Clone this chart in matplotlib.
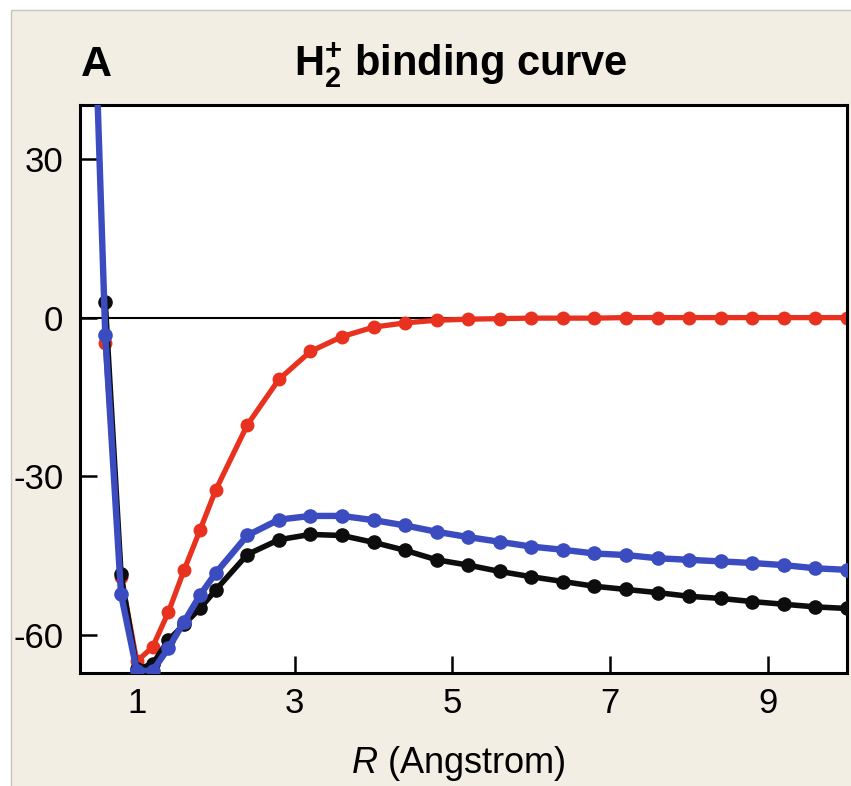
import matplotlib
matplotlib.use('Agg')
import matplotlib.pyplot as plt
from matplotlib.patches import Rectangle

plt.rcParams['font.family'] = ['Liberation Sans', 'DejaVu Sans']
plt.rcParams['mathtext.fontset'] = 'custom'
plt.rcParams['mathtext.rm'] = 'Liberation Sans'
plt.rcParams['mathtext.it'] = 'Liberation Sans:italic'
plt.rcParams['mathtext.bf'] = 'Liberation Sans:bold'

# Bond length R [Angstrom]
r_near = [0.6, 0.8, 1.0, 1.2, 1.4, 1.6, 1.8, 2.0, 2.4, 2.8, 3.2, 3.6, 4.0, 4.4,
          4.8, 5.2, 5.6, 6.0, 6.4, 6.8, 7.2, 7.6, 8.0, 8.4, 8.8, 9.2, 9.6, 10.0]
r_blue = [0.4] + r_near

# Energies
e_black = [3.0, -48.5, -66.5, -65.5, -61.0, -58.0, -55.0, -51.5, -44.8, -42.0,
           -41.0, -41.2, -42.5, -44.0, -45.8, -46.8, -48.0, -49.0, -49.9, -50.8,
           -51.4, -52.0, -52.7, -53.1, -53.7, -54.2, -54.7, -55.0]
e_blue = [88.0, -3.2, -52.3, -66.8, -66.8, -62.5, -57.5, -52.5, -48.3, -41.2,
          -38.2, -37.5, -37.5, -38.3, -39.3, -40.5, -41.5, -42.4, -43.3, -43.9,
          -44.6, -44.9, -45.5, -45.8, -46.1, -46.4, -46.8, -47.4, -47.7]
e_red = [-4.8, -49.0, -65.0, -62.3, -55.7, -47.7, -40.2, -32.6, -20.3, -11.7,
         -6.4, -3.6, -1.8, -1.0, -0.5, -0.3, -0.2, -0.1, -0.1, -0.1,
         0.0, 0.0, 0.0, 0.0, 0.0, 0.0, 0.0, 0.0]

xticks = [1, 3, 5, 7, 9]
yticks = [-60, -30, 0, 30]

fig = plt.figure(figsize=(8.51, 7.86), dpi=100, facecolor='white')
fig.patches.append(Rectangle((11 / 851, -0.1), 1.2, 1.1 - 10 / 786,
                             transform=fig.transFigure, facecolor='#f3eee3',
                             edgecolor='#c4c4c4', lw=1.0, zorder=-1))

ax = fig.add_axes([80 / 851, 1 - 673 / 786, 767 / 851, 568 / 786])
ax.set_facecolor('white')

ax.axhline(0, color='black', lw=1.5, zorder=1)
ax.plot(r_near, e_red, '-o', color='#e8321f', lw=3.8, ms=9, zorder=2)
ax.plot(r_near, e_black, '-o', color='#0d0d0d', lw=4.0, ms=9.5, zorder=3)
ax.plot(r_blue, e_blue, '-o', color='#3b4cc0', lw=4.6, ms=9.5, zorder=4)

ax.set_xlim(0.28, 10)
ax.set_ylim(-67.2, 40.2)
ax.set_xticks(xticks)
ax.set_yticks(yticks)
ax.set_yticklabels([str(v) for v in yticks])
ax.tick_params(direction='in', length=12, width=1.8, labelsize=25, colors='black')
ax.tick_params(axis='x', pad=10)
ax.tick_params(axis='y', pad=12)
for s in ax.spines.values():
    s.set_linewidth(2.2)

fig.text(458 / 851, 1 - 773 / 786, r'$\mathit{R}$ (Angstrom)', fontsize=26,
         ha='center', va='baseline')
fig.text(81 / 851, 1 - 76 / 786, 'A', fontsize=31, fontweight='bold',
         ha='left', va='baseline')
fig.text(461 / 851, 1 - 76 / 786, r'$\mathbf{H}_\mathbf{2}^\mathbf{+}$ binding curve',
         fontsize=30, fontweight='bold', ha='center', va='baseline')

fig.savefig('out.png', dpi=100, facecolor=fig.get_facecolor())
